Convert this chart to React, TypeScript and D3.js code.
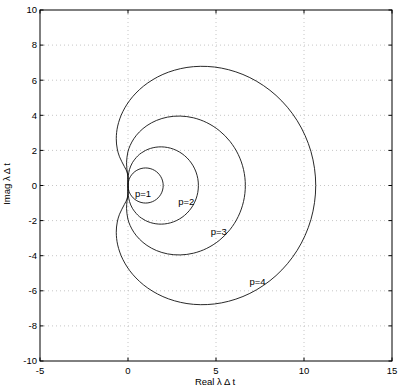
import * as d3 from 'd3';
import { useEffect, useRef } from 'react';

// angle along the upper half of each boundary (degrees), 0 -> 180
const thetaDeg = [0, 10, 20, 30, 45, 60, 75, 82.5, 90, 97.5, 105, 112.5, 120, 127.5, 135, 142.5, 150, 157.5, 165, 172.5, 180];

// upper half of the boundaries
const p1Re = [0, 0.0152, 0.0603, 0.134, 0.2929, 0.5, 0.7412, 0.8695, 1, 1.1305, 1.2588, 1.3827, 1.5, 1.6088, 1.7071, 1.7934, 1.866, 1.9239, 1.9659, 1.9914, 2];
const p1Im = [0, 0.1736, 0.342, 0.5, 0.7071, 0.866, 0.9659, 0.9914, 1, 0.9914, 0.9659, 0.9239, 0.866, 0.7934, 0.7071, 0.6088, 0.5, 0.3827, 0.2588, 0.1305, 0];

const p2Re = [0, 0.0002, 0.0036, 0.0179, 0.0858, 0.25, 0.5494, 0.756, 1, 1.2781, 1.5846, 1.9118, 2.25, 2.5881, 2.9142, 3.2161, 3.4821, 3.7013, 3.8649, 3.9658, 4];
const p2Im = [0, 0.1763, 0.3626, 0.567, 0.9142, 1.299, 1.6819, 1.8535, 2, 2.1123, 2.1819, 2.2013, 2.1651, 2.0697, 1.9142, 1.7005, 1.433, 1.1189, 0.7676, 0.3905, 0];

const p3Re = [0, -0.0002, -0.0034, -0.0148, -0.0523, -0.0833, -0.0064, 0.1204, 0.3333, 0.6485, 1.075, 1.6128, 2.25, 2.9634, 3.719, 4.474, 5.1814, 5.7932, 6.2659, 6.5645, 6.6667];
const p3Im = [0, 0.1746, 0.3505, 0.5343, 0.857, 1.299, 1.9121, 2.2782, 2.6667, 3.0546, 3.4121, 3.7048, 3.8971, 3.9565, 3.857, 3.5831, 3.1324, 2.5167, 1.7621, 0.9074, 0];

const p4Re = [0, 0, -0.0006, -0.0058, -0.0523, -0.2083, -0.4822, -0.6098, -0.6667, -0.5861, -0.2973, 0.2609, 1.125, 2.2936, 3.719, 5.3064, 6.9224, 8.4104, 9.6129, 10.3952, 10.6667];
const p4Im = [0, 0.1745, 0.3482, 0.5187, 0.7712, 1.0825, 1.6374, 2.0825, 2.6667, 3.3854, 4.2044, 5.0566, 5.8457, 6.4564, 6.7712, 6.6897, 6.1479, 5.1339, 3.6946, 1.9338, 0];

const curveNames = ['p=1', 'p=2', 'p=3', 'p=4'];
const labelX = [0.4, 2.85, 4.7, 6.9];
const labelY = [-0.45, -0.95, -2.65, -5.5];

const xTicks = [-5, 0, 5, 10, 15];
const yTicks = [-10, -8, -6, -4, -2, 0, 2, 4, 6, 8, 10];

const W = 402;
const H = 391;

const App = () => {
    const ref = useRef<SVGSVGElement>(null);

    useEffect(() => {
        const svg = d3.select(ref.current);
        svg.selectAll('*').remove();

        const x = d3.scaleLinear().domain([-5, 15]).range([40, 392]);
        const y = d3.scaleLinear().domain([-10, 10]).range([361, 10]);
        const font = '"Liberation Sans", Arial, Helvetica, sans-serif';

        // background
        svg.append('rect').attr('width', W).attr('height', H).attr('fill', 'white');

        // dotted grid
        const grid = svg.append('g').attr('stroke', '#b8b8b8').attr('stroke-width', 0.8).attr('stroke-dasharray', '1,3');
        grid.selectAll('.gx').data(xTicks.slice(1, -1)).enter().append('line')
            .attr('x1', d => x(d)).attr('x2', d => x(d))
            .attr('y1', y(10)).attr('y2', y(-10));
        grid.selectAll('.gy').data(yTicks.slice(1, -1)).enter().append('line')
            .attr('y1', d => y(d)).attr('y2', d => y(d))
            .attr('x1', x(-5)).attr('x2', x(15));

        // curves (upper half then mirrored lower half)
        const all = [[p1Re, p1Im], [p2Re, p2Im], [p3Re, p3Im], [p4Re, p4Im]];
        const line = d3.line<[number, number]>()
            .x(d => x(d[0])).y(d => y(d[1]))
            .curve(d3.curveCatmullRomClosed);
        all.forEach(([re, im]) => {
            const upper: [number, number][] = thetaDeg.map((_, i) => [re[i], im[i]]);
            const lower: [number, number][] = thetaDeg.slice(1, -1).map((_, i) => [re[i + 1], -im[i + 1]]).reverse();
            svg.append('path')
                .attr('d', line(upper.concat(lower)))
                .attr('fill', 'none')
                .attr('stroke', '#111')
                .attr('stroke-width', 0.9);
        });

        // curve labels
        svg.selectAll('.lab').data(curveNames).enter().append('text')
            .attr('x', (_, i) => x(labelX[i]))
            .attr('y', (_, i) => y(labelY[i]))
            .attr('dy', '0.35em')
            .attr('font-family', font).attr('font-size', 9.5)
            .text(d => d);

        // box
        svg.append('rect')
            .attr('x', x(-5)).attr('y', y(10))
            .attr('width', x(15) - x(-5)).attr('height', y(-10) - y(10))
            .attr('fill', 'none').attr('stroke', 'black').attr('stroke-width', 1);

        // inward ticks on all four sides
        const tk = 3.5;
        const ticks = svg.append('g').attr('stroke', 'black').attr('stroke-width', 1);
        xTicks.forEach(t => {
            ticks.append('line').attr('x1', x(t)).attr('x2', x(t)).attr('y1', y(-10)).attr('y2', y(-10) - tk);
            ticks.append('line').attr('x1', x(t)).attr('x2', x(t)).attr('y1', y(10)).attr('y2', y(10) + tk);
        });
        yTicks.forEach(t => {
            ticks.append('line').attr('y1', y(t)).attr('y2', y(t)).attr('x1', x(-5)).attr('x2', x(-5) + tk);
            ticks.append('line').attr('y1', y(t)).attr('y2', y(t)).attr('x1', x(15)).attr('x2', x(15) - tk);
        });

        // tick labels
        svg.selectAll('.xl').data(xTicks).enter().append('text')
            .attr('x', d => x(d)).attr('y', 374)
            .attr('text-anchor', 'middle')
            .attr('font-family', font).attr('font-size', 9.5)
            .text(d => String(d));
        svg.selectAll('.yl').data(yTicks).enter().append('text')
            .attr('x', 37).attr('y', d => y(d))
            .attr('dy', '0.35em')
            .attr('text-anchor', 'end')
            .attr('font-family', font).attr('font-size', 9.5)
            .text(d => String(d));

        // axis titles
        svg.append('text')
            .attr('x', 215).attr('y', 385)
            .attr('text-anchor', 'middle')
            .attr('font-family', font).attr('font-size', 9.5)
            .text('Real λ Δ t');
        svg.append('text')
            .attr('transform', `translate(10,${184}) rotate(-90)`)
            .attr('text-anchor', 'middle')
            .attr('font-family', font).attr('font-size', 9.5)
            .text('Imag λ Δ t');
    }, []);

    return (
        <svg ref={ref} width={W} height={H}
            style={{ position: 'absolute', left: 0, top: 0, display: 'block' }} />
    );
};

export default App;
